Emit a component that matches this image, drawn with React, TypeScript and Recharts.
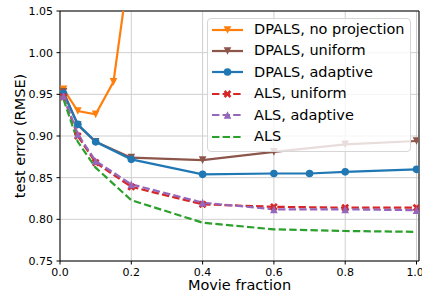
import { LineChart, Line, XAxis, YAxis, CartesianGrid, Legend, ReferenceLine } from "recharts";

const FONT = "'DejaVu Sans', sans-serif";

// movie fractions sampled
const fractions = [0.01, 0.05, 0.1, 0.2, 0.4, 0.6, 0.8, 1.0];
const adaptiveFractions = [0.01, 0.05, 0.1, 0.2, 0.4, 0.6, 0.7, 0.8, 1.0];
const noProjFractions = [0.01, 0.05, 0.1, 0.15, 0.2];

// test RMSE per series
const dpalsNoProjection = [0.956, 0.93, 0.926, 0.965, 1.12];
const dpalsUniform = [0.953, 0.913, 0.893, 0.874, 0.871, 0.881, 0.89, 0.894];
const dpalsAdaptive = [0.951, 0.914, 0.893, 0.872, 0.854, 0.855, 0.855, 0.857, 0.86];
const alsUniform = [0.947, 0.9, 0.868, 0.839, 0.818, 0.815, 0.814, 0.814];
const alsAdaptive = [0.948, 0.902, 0.87, 0.842, 0.82, 0.812, 0.812, 0.811];
const als = [0.944, 0.893, 0.862, 0.823, 0.796, 0.788, 0.786, 0.785];

const yTicks = [0.75, 0.8, 0.85, 0.9, 0.95, 1.0, 1.05];
const xTicks = [0, 0.2, 0.4, 0.6, 0.8, 1.0];
const X_MAX = 1.007;

const zip = (xs: number[], ys: number[]) => xs.map((x, i) => ({ x, y: ys[i] }));

type Marker = "tri_down" | "tri_up" | "circle" | "x" | "none";

const markerPath = (m: Marker, cx: number, cy: number) => {
  const s = 3.8;
  if (m === "tri_down") return `M${cx - s},${cy - s}L${cx + s},${cy - s}L${cx},${cy + s}Z`;
  if (m === "tri_up") return `M${cx - s},${cy + s}L${cx + s},${cy + s}L${cx},${cy - s}Z`;
  if (m === "circle")
    return `M${cx - s},${cy}a${s},${s} 0 1,0 ${2 * s},0a${s},${s} 0 1,0 ${-2 * s},0Z`;
  if (m === "x") {
    const a = 4.2;
    const t = 1.3;
    const pts = [
      [-t, a], [t, a], [t, t], [a, t], [a, -t], [t, -t],
      [t, -a], [-t, -a], [-t, -t], [-a, -t], [-a, t], [-t, t],
    ].map(([px, py]) => {
      const c = Math.SQRT1_2;
      return [cx + (px - py) * c, cy + (px + py) * c];
    });
    return "M" + pts.map((p) => p.join(",")).join("L") + "Z";
  }
  return "";
};

const series = [
  { name: "DPALS, no projection", color: "#ff7f0e", dashed: false, marker: "tri_down" as Marker, data: zip(noProjFractions, dpalsNoProjection) },
  { name: "DPALS, uniform", color: "#8c564b", dashed: false, marker: "tri_down" as Marker, data: zip(fractions, dpalsUniform) },
  { name: "DPALS, adaptive", color: "#1f77b4", dashed: false, marker: "circle" as Marker, data: zip(adaptiveFractions, dpalsAdaptive) },
  { name: "ALS, uniform", color: "#d62728", dashed: true, marker: "x" as Marker, data: zip(fractions, alsUniform) },
  { name: "ALS, adaptive", color: "#9467bd", dashed: true, marker: "tri_up" as Marker, data: zip(fractions, alsAdaptive) },
  { name: "ALS", color: "#2ca02c", dashed: true, marker: "none" as Marker, data: zip(fractions, als) },
];

const DASH = "7.4 3.2";

const LegendBox = () => (
  <div
    style={{
      border: "1px solid #d6d6d6",
      borderRadius: 4,
      background: "rgba(255,255,255,0.8)",
      padding: "0 5px 4px 4px",
      fontFamily: FONT,
      fontSize: 14.5,
      color: "#000",
    }}
  >
    {series.map((s) => (
      <div key={s.name} style={{ display: "flex", alignItems: "center", height: 21.4 }}>
        <svg width={31} height={12}>
          <line
            x1={0}
            y1={6}
            x2={31}
            y2={6}
            stroke={s.color}
            strokeWidth={2.2}
            strokeDasharray={s.dashed ? DASH : undefined}
          />
          {s.marker !== "none" && <path d={markerPath(s.marker, 15.5, 6)} fill={s.color} />}
        </svg>
        <span style={{ marginLeft: 11, whiteSpace: "nowrap", lineHeight: "21.4px" }}>{s.name}</span>
      </div>
    ))}
  </div>
);

export default function App() {
  return (
    <div style={{ position: "absolute", left: 0, top: 0 }}>
      <LineChart width={422} height={294} margin={{ top: 11, right: 3, left: 0, bottom: 0 }}>
        <CartesianGrid stroke="#cfcfcf" strokeWidth={1} />
        <XAxis
          type="number"
          dataKey="x"
          domain={[0, X_MAX]}
          ticks={xTicks}
          allowDataOverflow
          height={33}
          tickSize={3.5}
          tickMargin={3.5}
          stroke="#000"
          tick={{ fill: "#000", fontSize: 11, fontFamily: FONT }}
          tickFormatter={(v: number) => v.toFixed(1)}
          label={{
            value: "Movie fraction",
            position: "insideBottom",
            offset: 4,
            style: { fill: "#000", fontSize: 14.5, fontFamily: FONT },
          }}
        />
        <YAxis
          type="number"
          domain={[0.75, 1.05]}
          ticks={yTicks}
          allowDataOverflow
          width={60}
          tickSize={3.5}
          tickMargin={3.5}
          stroke="#000"
          tick={{ fill: "#000", fontSize: 11, fontFamily: FONT }}
          tickFormatter={(v: number) => v.toFixed(2)}
          label={(props: any) => {
            const vb = props.viewBox || {};
            const cy = (vb.y ?? 11) + (vb.height ?? 250) / 2;
            const cx = 20;
            return (
              <text
                x={cx}
                y={cy}
                transform={`rotate(-90, ${cx}, ${cy})`}
                textAnchor="middle"
                dominantBaseline="central"
                fill="#000"
                fontSize={14.5}
                fontFamily={FONT}
              >
                test error (RMSE)
              </text>
            );
          }}
        />
        <ReferenceLine y={1.05} stroke="#000" strokeWidth={1} />
        <ReferenceLine x={X_MAX} stroke="#000" strokeWidth={1} />
        {series.map((s) => (
          <Line
            key={s.name}
            data={s.data}
            dataKey="y"
            name={s.name}
            type="linear"
            stroke={s.color}
            strokeWidth={2.2}
            strokeDasharray={s.dashed ? DASH : undefined}
            isAnimationActive={false}
            dot={
              s.marker === "none"
                ? false
                : (p: any) => (
                    <path
                      key={`${s.name}-${p.index}`}
                      d={markerPath(s.marker, p.cx, p.cy)}
                      fill={s.color}
                      stroke="none"
                    />
                  )
            }
            activeDot={false}
          />
        ))}
        <Legend
          layout="vertical"
          align="center"
          verticalAlign="middle"
          content={() => <LegendBox />}
          wrapperStyle={{ left: 207, top: 18, width: "auto", height: "auto" }}
        />
      </LineChart>
    </div>
  );
}
